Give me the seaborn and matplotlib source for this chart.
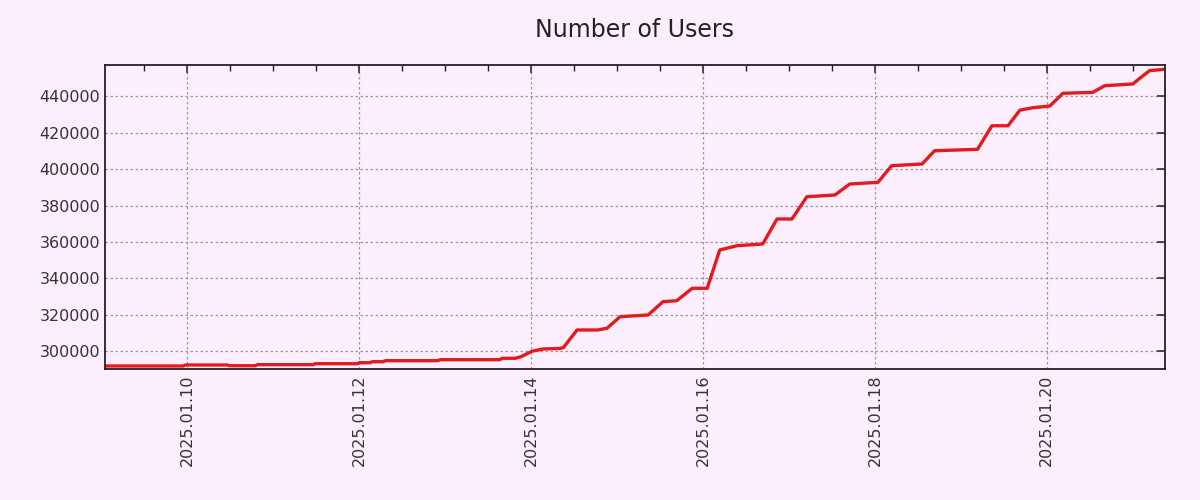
import matplotlib
matplotlib.use("Agg")
import matplotlib.pyplot as plt
import matplotlib.dates as mdates
import seaborn as sns
import pandas as pd

timestamps = [
    "2025-01-09 01:00", "2025-01-09 22:50", "2025-01-09 23:30", "2025-01-10 11:10",
    "2025-01-10 11:40", "2025-01-10 19:00", "2025-01-10 19:30", "2025-01-11 11:10",
    "2025-01-11 11:40", "2025-01-11 23:30", "2025-01-12 00:00", "2025-01-12 03:00",
    "2025-01-12 03:40", "2025-01-12 06:40", "2025-01-12 07:20", "2025-01-12 22:00",
    "2025-01-12 22:40", "2025-01-13 15:20", "2025-01-13 15:50", "2025-01-13 19:30",
    "2025-01-13 21:00", "2025-01-14 00:20", "2025-01-14 03:20", "2025-01-14 08:10",
    "2025-01-14 09:00", "2025-01-14 12:50", "2025-01-14 18:30", "2025-01-14 21:10",
    "2025-01-15 00:50", "2025-01-15 08:40", "2025-01-15 12:50", "2025-01-15 16:40",
    "2025-01-15 21:00", "2025-01-16 01:10", "2025-01-16 04:40", "2025-01-16 09:30",
    "2025-01-16 16:40", "2025-01-16 20:40", "2025-01-17 00:50", "2025-01-17 05:00",
    "2025-01-17 12:50", "2025-01-17 17:00", "2025-01-18 00:50", "2025-01-18 04:40",
    "2025-01-18 13:10", "2025-01-18 16:40", "2025-01-19 04:40", "2025-01-19 08:40",
    "2025-01-19 13:10", "2025-01-19 16:30", "2025-01-19 20:10", "2025-01-20 00:50",
    "2025-01-20 04:30", "2025-01-20 12:50", "2025-01-20 16:10", "2025-01-21 00:00",
    "2025-01-21 04:40", "2025-01-21 09:00",
]
users = [
    292050, 292050, 292600, 292600,
    292200, 292200, 292770, 292770,
    293300, 293300, 293860, 293860,
    294400, 294400, 294960, 294960,
    295500, 295500, 296270, 296270,
    297000, 300200, 301370, 301700,
    302130, 311780, 311780, 312700,
    319070, 320000, 327300, 327840,
    334630, 334630, 355620, 357980,
    358900, 372600, 372600, 384800,
    385760, 391800, 392700, 401800,
    402750, 410000, 410800, 423700,
    423700, 432300, 433600, 434500,
    441500, 442000, 445650, 446600,
    453900, 454650,
]
title = "Number of Users"

df = pd.DataFrame({"time": pd.to_datetime(timestamps), "users": users})

bg = "#FCEEFC"
sns.set_style("white")
plt.rcParams["font.family"] = ["DejaVu Sans"]

fig = plt.figure(figsize=(12, 5), dpi=100, facecolor=bg)
ax = fig.add_axes([0.0875, 0.262, 0.8833, 0.608])
ax.set_facecolor(bg)

sns.lineplot(data=df, x="time", y="users", ax=ax, color="#E41A1C", linewidth=2.4)

ax.set_xlim(df["time"].min(), df["time"].max())
ax.set_ylim(290400, 457000)

ax.xaxis.set_major_locator(mdates.DayLocator(bymonthday=[10, 12, 14, 16, 18, 20]))
ax.xaxis.set_minor_locator(mdates.HourLocator(byhour=[0, 12]))
ax.xaxis.set_major_formatter(mdates.DateFormatter("%Y.%m.%d"))
ax.yaxis.set_major_locator(plt.MultipleLocator(20000))
ax.yaxis.set_major_formatter(plt.FuncFormatter(lambda v, p: f"{int(v)}"))

ax.grid(True, which="major", color="#999999", linestyle=(0, (2, 2)), linewidth=0.9)
for s in ax.spines.values():
    s.set_color("#222222")
    s.set_linewidth(1.3)

ax.tick_params(axis="both", which="both", direction="in", top=True, right=True,
               colors="#222222", labelsize=11.5, labelcolor="#333333")
ax.tick_params(axis="both", which="major", length=6, width=1.1)
ax.tick_params(axis="both", which="minor", length=4, width=1.0)
ax.tick_params(axis="x", which="major", pad=4)
for lbl in ax.get_xticklabels():
    lbl.set_rotation(90)

ax.set_xlabel("")
ax.set_ylabel("")
ax.set_title(title, fontsize=17, color="#222222", pad=20)

fig.savefig("out.png", dpi=100, facecolor=bg)
